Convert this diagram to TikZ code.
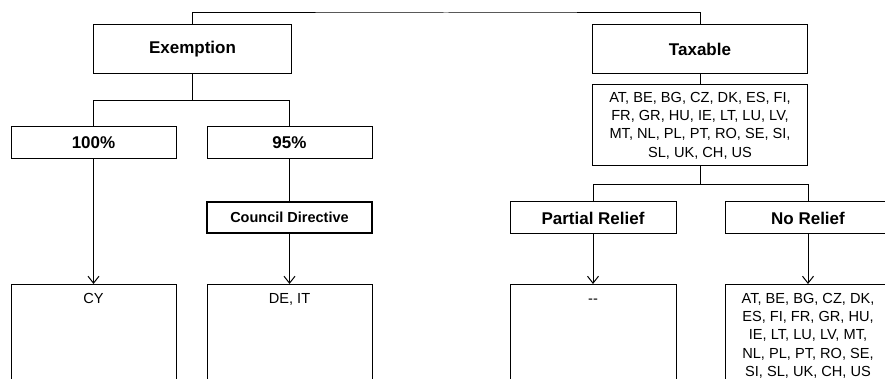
\documentclass[tikz,border=0pt]{standalone}
\usepackage{fontspec}
\setmainfont{Liberation Sans}
\usetikzlibrary{arrows.meta}
\begin{document}
\begin{tikzpicture}[x=1pt,y=1pt,
  box/.style={draw, line width=1pt, inner sep=0pt, align=center},
  headbox/.style={box, font=\fontsize{17}{20}\selectfont\bfseries},
  listbox/.style={box, font=\fontsize{14.6}{18.3}\selectfont},
  resbox/.style={box, minimum width=165pt, minimum height=130pt, anchor=north},
  restext/.style={inner sep=0pt, anchor=north, align=center, font=\fontsize{14.6}{18.3}\selectfont},
  link/.style={line width=1pt},
  arr/.style={line width=1pt, -{Straight Barb[length=7pt,width=11pt,line width=1pt]}}
]
\useasboundingbox (0,0) rectangle (885,-379);
\clip (0,0) rectangle (885,-379);

% first level
\node[headbox, minimum width=198pt, minimum height=49pt] (ex) at (192.5,-49.5) {Exemption};
\node[headbox, minimum width=215pt, minimum height=49pt] (tax) at (700,-49.5) {Taxable};
\draw[link] (ex.north) |- (446,-13) coordinate (top) -| (tax.north);

% exemption branch
\node[headbox, minimum width=165pt, minimum height=32pt] (p100) at (93.5,-143) {100\%};
\node[headbox, minimum width=165pt, minimum height=32pt] (p95) at (289.5,-143) {95\%};
\draw[link] (ex.south) -- ++(0,-26) -| (p100.north);
\draw[link] (ex.south) -- ++(0,-26) -| (p95.north);

\node[box, line width=2pt, minimum width=165pt, minimum height=31pt,
      font=\fontsize{14.5}{17}\selectfont\bfseries] (cd) at (289.5,-217.5) {Council Directive};
\draw[link] (p95.south) -- (cd.north);

\node[resbox] (cy) at (93.5,-284) {};
\node[resbox] (deit) at (289.5,-284) {};
\node[restext] (cyt) at ([yshift=-9pt]cy.north) {CY};
\node[restext] (deitt) at ([yshift=-9pt]deit.north) {DE, IT};
\draw[arr] (p100.south) -- (cy.north);
\draw[arr] (cd.south) -- (deit.north);

% taxable branch
\node[listbox, minimum width=215pt, minimum height=81pt] (cl) at (700,-125.5)
  {AT, BE, BG, CZ, DK, ES, FI,\\FR, GR, HU, IE, LT, LU, LV,\\MT, NL, PL, PT, RO, SE, SI,\\SL, UK, CH, US};
\draw[link] (tax.south) -- (cl.north);

\node[headbox, minimum width=166pt, minimum height=32pt] (pr) at (593,-218) {Partial Relief};
\node[headbox, minimum width=166pt, minimum height=32pt] (nr) at (808,-218) {No Relief};
\draw[link] (cl.south) -- ++(0,-18) -| (pr.north);
\draw[link] (cl.south) -- ++(0,-18) -| (nr.north);

\node[resbox, minimum width=166pt] (prr) at (593,-284) {};
\node[resbox, minimum width=166pt] (nrr) at (808,-284) {};
\node[restext] (prt) at ([yshift=-9pt]prr.north) {\vphantom{CY}-{}-};
\node[restext] (nrt) at ([yshift=-9pt]nrr.north)
  {AT, BE, BG, CZ, DK,\\ES, FI, FR, GR, HU,\\IE, LT, LU, LV, MT,\\NL, PL, PT, RO, SE,\\SI, SL, UK, CH, US};
\draw[arr] (pr.south) -- (prr.north);
\draw[arr] (nr.south) -- (nrr.north);
\end{tikzpicture}
\end{document}
